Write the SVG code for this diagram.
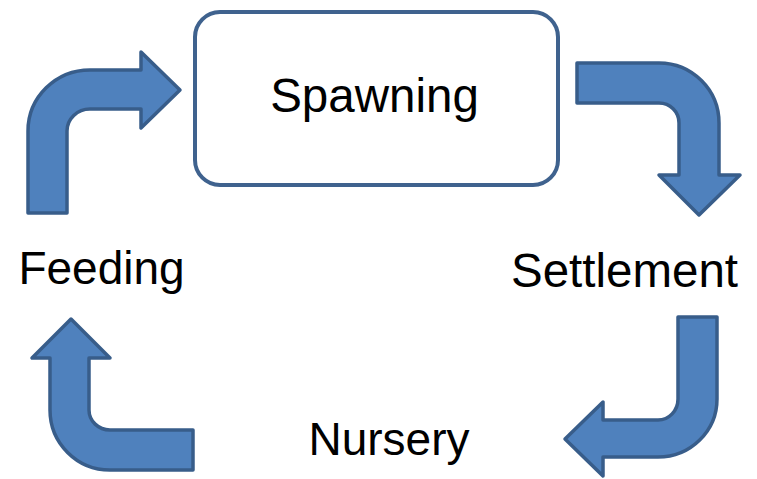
<svg xmlns="http://www.w3.org/2000/svg" width="757" height="479" viewBox="0 0 757 479">
<style>
.lbl{font-family:"Liberation Sans",Arial,sans-serif;font-size:46px;fill:#000;text-anchor:middle}
.arr{fill:#4F81BD;stroke:#385D8A;stroke-width:3.5;stroke-linejoin:round}
.box{fill:#fff;stroke:#3F628E;stroke-width:4}
</style>
<rect width="757" height="479" fill="#fff"/>
<g id="connectors">
<path class="arr" d="M28,213 L28,131 A62,61 0 0 1 90,70 L141,70 L141,52 L180,90 L141,128 L141,109 L90,109 A23,22 0 0 0 67,131 L67,213 Z"/>
<path class="arr" d="M577,63 L659,63 A60,60 0 0 1 719,123 L719,175 L740,175 L699,215 L659,175 L679,175 L679,123 A20,20 0 0 0 659,103 L577,103 Z"/>
<path class="arr" d="M678,317 L717,317 L717,399 A59,58 0 0 1 658,457 L603,457 L603,476 L565,439 L603,402 L603,420 L658,420 A20,21 0 0 0 678,399 Z"/>
<path class="arr" d="M193,430 L110,430 A21,20 0 0 1 89,410 L89,358 L110,358 L71,319 L32,358 L50,358 L50,410 A60,60 0 0 0 110,470 L193,470 Z"/>
</g>
<g id="spawning">
<rect class="box" x="195" y="12" width="363" height="173" rx="25" ry="25"/>
<text class="lbl" x="374.5" y="112" style="font-size:47.5px">Spawning</text>
</g>
<g id="settlement"><text class="lbl" x="624.5" y="287" style="font-size:47.5px">Settlement</text></g>
<g id="nursery"><text class="lbl" x="389" y="455">Nursery</text></g>
<g id="feeding"><text class="lbl" x="101.5" y="284">Feeding</text></g>
</svg>
